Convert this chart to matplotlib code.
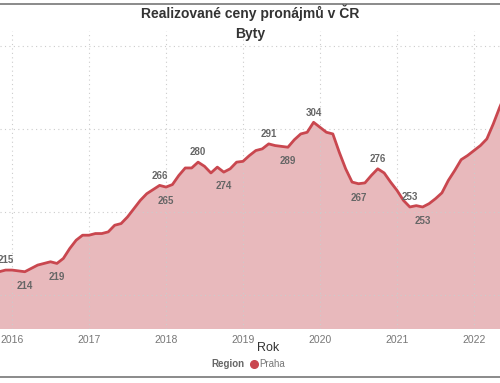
import matplotlib
matplotlib.use("Agg")
import matplotlib.pyplot as plt
from matplotlib.lines import Line2D
import numpy as np
import pandas as pd

plt.rcParams['font.family'] = ['Liberation Sans', 'DejaVu Sans']

title = "Realizované ceny pronájmů v ČR"
subtitle = "Byty"
x_title = "Rok"
legend_title = "Region"
series_name = "Praha"

start_month = "2015-11-01"
values = [214, 215, 215, 214.5, 214, 216, 218, 219, 220, 219, 222, 228, 233, 236,
          236, 237, 237, 238, 242, 243, 247, 252, 257, 261, 263.5, 266, 265, 266.5,
          272, 276.5, 276.5, 280, 277.5, 273.5, 277, 274, 276, 280, 280.5, 284, 287,
          288, 291, 290, 289.5, 289, 293.5, 297, 298, 304, 301, 298, 297, 286, 276,
          268, 267, 267.5, 272, 276, 273.5, 268, 263, 257, 253, 253.8, 253, 255, 258,
          261.5, 269, 275, 281.5, 284, 287, 290, 294, 303, 313, 322]
# labelled points: (month index, text, position)
labels = [(1, "215", "above"), (4, "214", "below"), (9, "219", "below"),
          (25, "266", "above"), (26, "265", "below"), (31, "280", "above"),
          (35, "274", "below"), (42, "291", "above"), (45, "289", "below"),
          (49, "304", "above"), (56, "267", "below"), (59, "276", "above"),
          (64, "253", "above"), (66, "253", "below")]
year_ticks = [2016, 2017, 2018, 2019, 2020, 2021, 2022]

dates = pd.date_range(start_month, periods=len(values), freq="MS")
x = dates.year + (dates.month - 1) / 12.0
y = np.array(values)

line_col = "#c9474f"
fill_col = "#e8b9bc"

fig = plt.figure(figsize=(5.0, 3.83), dpi=100)
ax = fig.add_axes([0.0, 1 - 329 / 383, 1.0, (329 - 31) / 383])
ymin, ymax = 179.5, 359
ax.fill_between(x, y, ymin, color=fill_col, lw=0, zorder=1)
ax.plot(x, y, color=line_col, lw=2, zorder=3, solid_joinstyle="round")
ax.set_xlim(2016 - 12 / 77, 2016 + 488 / 77)
ax.set_ylim(ymin, ymax)
ax.set_yticks([200, 250, 300, 350])
ax.set_xticks(year_ticks)
ax.set_xticklabels([str(t) for t in year_ticks], color="#777777", fontsize=7.5)
ax.tick_params(axis="x", length=0, pad=4)
ax.tick_params(axis="y", length=0, labelleft=False)
ax.grid(True, color="#cccccc", linestyle=(0, (1, 3)), lw=0.8, zorder=2)
ax.set_axisbelow(False)
for s in ax.spines.values():
    s.set_visible(False)

for idx, txt, pos in labels:
    off = 7 if pos == "above" else -10
    ax.annotate(txt, (x[idx], y[idx]), xytext=(0, off), textcoords="offset points",
                ha="center", va="center", fontsize=7, fontweight="bold",
                color="#666666", zorder=5)

fig.text(0.5, 1 - 13 / 383, title, ha="center", va="center", fontsize=10,
         fontweight="bold", color="#333333")
fig.text(0.5, 1 - 34 / 383, subtitle, ha="center", va="center", fontsize=10,
         fontweight="bold", color="#333333")
fig.text(268 / 500, 1 - 348 / 383, x_title, ha="center", va="center", fontsize=9,
         color="#333333")
fig.text(245 / 500, 1 - 364 / 383, legend_title, ha="right", va="center",
         fontsize=7, fontweight="bold", color="#666666")
fig.add_artist(Line2D([254 / 500], [1 - 364 / 383], marker="o", markersize=5.5,
                      color=line_col, lw=0, transform=fig.transFigure))
fig.text(259 / 500, 1 - 364 / 383, series_name, ha="left", va="center",
         fontsize=7, color="#777777")

for yy in (3.5, 376.5):
    fig.add_artist(Line2D([0, 1], [1 - yy / 383] * 2, color="#777777", lw=1.2,
                          transform=fig.transFigure))

fig.savefig("out.png", dpi=100)
